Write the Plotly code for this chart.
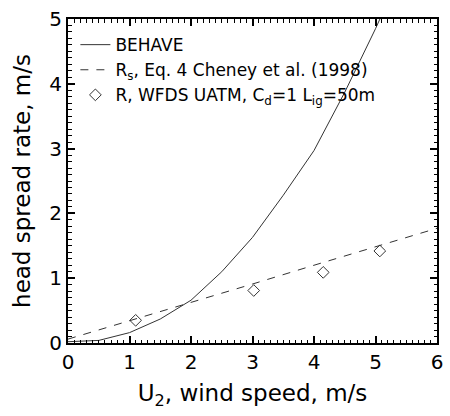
import plotly.graph_objects as go

# BEHAVE head spread rate
behave_u = [0.0, 0.5, 1.0, 1.5, 2.0, 2.5, 3.0, 3.5, 4.0, 4.5, 5.0, 5.5]
behave_r = [0.02, 0.04, 0.16, 0.37, 0.66, 1.10, 1.63, 2.28, 2.97, 3.87, 4.85, 5.90]

# Cheney et al. (1998) Eq. 4
cheney_u = [0, 1, 2, 3, 4, 5, 6]
cheney_r = [0.06, 0.34, 0.63, 0.91, 1.20, 1.48, 1.77]

# WFDS UATM
wfds_u = [1.10, 3.02, 4.15, 5.07]
wfds_r = [0.35, 0.81, 1.09, 1.42]

FONT = "DejaVu Sans"
INK = "#333333"

fig = go.Figure()
fig.add_trace(go.Scatter(x=behave_u, y=behave_r, mode="lines", name="BEHAVE",
                         line=dict(color=INK, width=1)))
fig.add_trace(go.Scatter(x=cheney_u, y=cheney_r, mode="lines",
                         name="R<sub>s</sub>, Eq. 4 Cheney et al. (1998)",
                         line=dict(color=INK, width=1, dash="8px,8px")))
fig.add_trace(go.Scatter(x=wfds_u, y=wfds_r, mode="markers",
                         name="R, WFDS UATM, C<sub>d</sub>=1 L<sub>ig</sub>=50m",
                         marker=dict(symbol="diamond-open", size=9, color=INK,
                                     line=dict(color=INK, width=1))))

axis_common = dict(showline=True, linecolor="black", linewidth=2, mirror="allticks",
                   ticks="inside", ticklen=7, tickwidth=1.5, tickcolor="black",
                   showgrid=False, zeroline=False,
                   tickfont=dict(family=FONT, size=20, color="black"))

fig.update_xaxes(range=[0, 6], dtick=1, tick0=0,
                 minor=dict(ticks="inside", ticklen=3.5, tickwidth=1, tickcolor="black",
                            tick0=0, dtick=0.1, showgrid=False),
                 title=dict(text="U<sub>2</sub>, wind speed, m/s",
                            font=dict(family=FONT, size=23, color="black"), standoff=12),
                 **axis_common)
fig.update_yaxes(range=[0, 5], dtick=1, tick0=0,
                 minor=dict(ticks="inside", ticklen=3.5, tickwidth=1, tickcolor="black",
                            tick0=0, dtick=0.1, showgrid=False),
                 title=dict(text="head spread rate, m/s",
                            font=dict(family=FONT, size=23, color="black"), standoff=12),
                 **axis_common)

fig.update_layout(width=450, height=416,
                  margin=dict(l=68, r=7, t=13, b=73),
                  paper_bgcolor="white", plot_bgcolor="white",
                  showlegend=True,
                  legend=dict(x=0.02, y=0.975, xanchor="left", yanchor="top",
                              bgcolor="rgba(0,0,0,0)", borderwidth=0,
                              font=dict(family=FONT, size=17, color="black"),
                              tracegroupgap=0, itemwidth=30))

fig.write_html("out.html")
